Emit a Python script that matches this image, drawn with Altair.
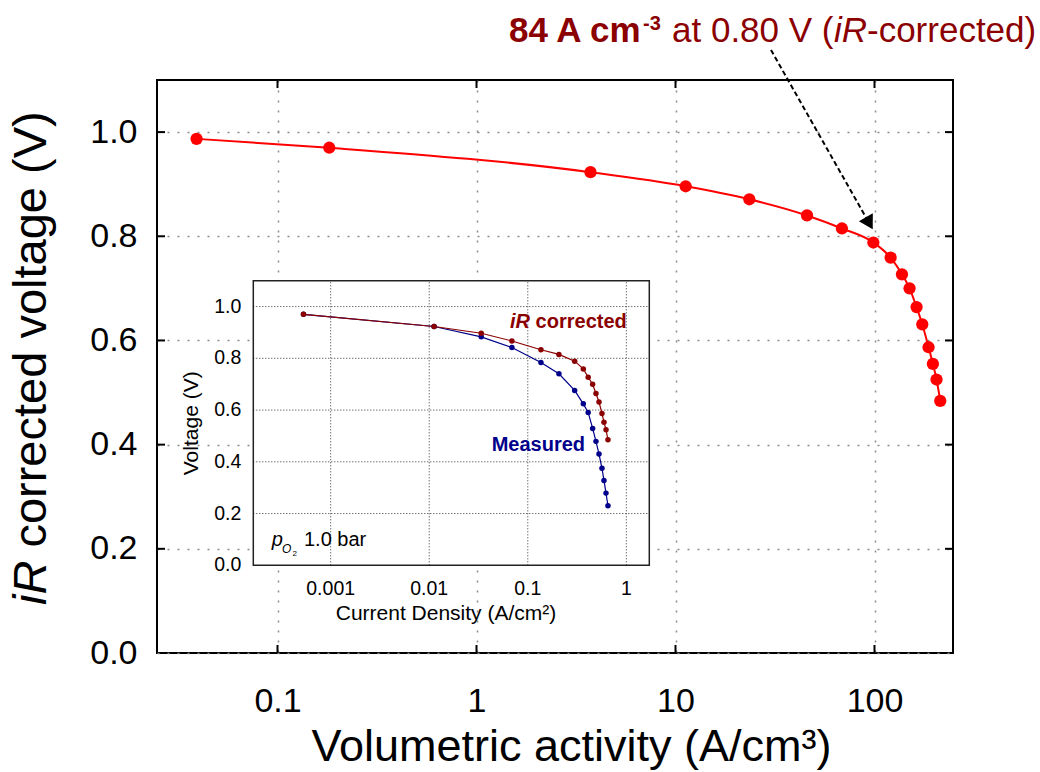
import altair as alt
import pandas as pd

# ---------------- data ----------------
main_x = [0.0392, 0.182, 3.74, 11.25, 23.5, 45.8, 68.6, 98.7, 120.5, 137.4,
          150.0, 162.7, 173.8, 186.9, 196.5, 205.0, 214.0]
main_y = [0.987, 0.970, 0.923, 0.896, 0.871, 0.840, 0.815, 0.788, 0.759, 0.727,
          0.700, 0.664, 0.631, 0.587, 0.555, 0.525, 0.484]

inset_x = [0.00053, 0.0112, 0.0337, 0.069, 0.136, 0.207, 0.299, 0.366, 0.41,
           0.455, 0.492, 0.528, 0.566, 0.593, 0.622, 0.651]
corrected_y = [0.970, 0.923, 0.897, 0.867, 0.833, 0.815, 0.789, 0.759, 0.727,
               0.700, 0.664, 0.631, 0.587, 0.553, 0.524, 0.485]
measured_y = [0.970, 0.923, 0.883, 0.842, 0.784, 0.740, 0.676, 0.624, 0.591,
              0.529, 0.479, 0.430, 0.375, 0.328, 0.279, 0.230]

main_xticks = [0.1, 1, 10, 100]
main_yticks = [0.0, 0.2, 0.4, 0.6, 0.8, 1.0]
inset_xticks = [0.001, 0.01, 0.1, 1]
inset_xlabels = ["0.001", "0.01", "0.1", "1"]
inset_yticks = [0.0, 0.2, 0.4, 0.6, 0.8, 1.0]
inset_ylabels = ["0.0", "0.2", "0.4", "0.6", "0.8", "1.0"]

main_xdomain = [0.0248, 248]
main_ydomain = [0.0, 1.1]
inset_xdomain = [1.64e-4, 1.71]
inset_ydomain = [0.0, 1.1]

# ---------------- layout / style ----------------
W, H = 796, 573
PAD = {"left": 157, "top": 80, "right": 1040 - 157 - W, "bottom": 772 - 80 - H}
FONT = "Liberation Sans, Arial, sans-serif"
RED = "#ff0000"
DARKRED = "#8b0000"
NAVY = "#00008b"
TICK = 8

ONE = pd.DataFrame({"a": [0]})


def label(text, x, y, size, weight="normal", style="normal", color="black",
          align="left", baseline="alphabetic", angle=0):
    return alt.Chart(ONE).mark_text(
        text=text, font=FONT, fontSize=size, fontWeight=weight, fontStyle=style,
        color=color, align=align, baseline=baseline, angle=angle
    ).encode(x=alt.value(x), y=alt.value(y))


# ---------------- main chart ----------------
grid_kw = dict(grid=True, gridColor="#8c8c8c", gridDash=[2, 8], gridWidth=1.5,
               ticks=False, domain=False, labelFont=FONT, labelColor="black",
               labelFontSize=34, labelOverlap=False, labelFlush=False)

xaxis = alt.Axis(values=main_xticks, format="~g", labelPadding=31,
                 title="Volumetric activity (A/cm³)", titleFont=FONT,
                 titleFontSize=45, titleFontWeight="normal", titleColor="black",
                 titleX=414, titleY=107, titleBaseline="alphabetic",
                 titleAlign="center", **grid_kw)
yaxis = alt.Axis(values=main_yticks, format=".1f", labelPadding=20, title=None,
                 **grid_kw)

X = alt.X("x:Q", scale=alt.Scale(type="log", domain=main_xdomain, nice=False), axis=xaxis)
Y = alt.Y("y:Q", scale=alt.Scale(domain=main_ydomain, nice=False, zero=False), axis=yaxis)

main_df = pd.DataFrame({"x": main_x, "y": main_y})

main_line = alt.Chart(main_df).mark_line(color=RED, strokeWidth=2,
                                         interpolate="monotone").encode(x=X, y=Y)
main_pts = alt.Chart(main_df).mark_circle(color=RED, size=150, opacity=1).encode(x=X, y=Y)

xt_df = pd.DataFrame({"x": main_xticks})
yt_df = pd.DataFrame({"y": main_yticks[1:]})
tick_kw = dict(color="black", strokeWidth=2)
ticks_bottom = alt.Chart(xt_df).mark_rule(**tick_kw).encode(
    x=X, y=alt.value(H), y2=alt.value(H - TICK))
ticks_top = alt.Chart(xt_df).mark_rule(**tick_kw).encode(
    x=X, y=alt.value(0), y2=alt.value(TICK))
ticks_left = alt.Chart(yt_df).mark_rule(**tick_kw).encode(
    y=Y, x=alt.value(0), x2=alt.value(TICK))
ticks_right = alt.Chart(yt_df).mark_rule(**tick_kw).encode(
    y=Y, x=alt.value(W), x2=alt.value(W - TICK))

# y-axis title (iR in italics)
ytitle1 = label("iR", -111, 525, 47, style="italic", angle=270)
ytitle2 = label("corrected voltage (V)", -111, 467.6, 47, angle=270)

# top annotation
ann1 = label("84 A cm", 352, -38.3, 35, weight="bold", color=DARKRED)
ann2 = label("-3", 486, -50, 20, weight="bold", color=DARKRED)
ann3 = label("at 0.80 V (", 515, -38.3, 35, color=DARKRED)
ann4 = label("iR", 677, -38.3, 35, style="italic", color=DARKRED)
ann5 = label("-corrected)", 710, -38.3, 35, color=DARKRED)

arrow_line = alt.Chart(ONE).mark_rule(color="black", strokeWidth=2,
                                      strokeDash=[5, 3]).encode(
    x=alt.value(614), y=alt.value(-30), x2=alt.value(712.3), y2=alt.value(143.3))
arrow_head = alt.Chart(ONE).mark_point(shape="triangle-down", filled=True,
                                       size=256, color="black", opacity=1,
                                       angle=330.3).encode(
    x=alt.value(712.3), y=alt.value(143.3))

main_layer = alt.layer(
    main_line, main_pts, ticks_bottom, ticks_top, ticks_left, ticks_right,
    ytitle1, ytitle2, ann1, ann2, ann3, ann4, ann5, arrow_line, arrow_head
)

# ---------------- inset ----------------
Xi = alt.X("x:Q", scale=alt.Scale(type="log", domain=inset_xdomain,
                                  range=[96.3, 492.3], nice=False), axis=None)
Yi = alt.Y("y:Q", scale=alt.Scale(domain=inset_ydomain, range=[485.3, 200.7],
                                  nice=False, zero=False), axis=None)

box_df = pd.DataFrame({"x": [inset_xdomain[0]], "x2": [inset_xdomain[1]],
                       "y": [inset_ydomain[0]], "y2": [inset_ydomain[1]]})
inset_bg = alt.Chart(box_df).mark_rect(color="white", opacity=1).encode(
    x=Xi, x2="x2:Q", y=Yi, y2="y2:Q")
inset_frame = alt.Chart(box_df).mark_rect(fillOpacity=0, stroke="#222222",
                                          strokeWidth=1.5).encode(
    x=Xi, x2="x2:Q", y=Yi, y2="y2:Q")

vg_df = pd.DataFrame({"x": inset_xticks, "y": [inset_ydomain[0]] * 4,
                      "y2": [inset_ydomain[1]] * 4})
hg_df = pd.DataFrame({"y": inset_yticks[1:], "x": [inset_xdomain[0]] * 5,
                      "x2": [inset_xdomain[1]] * 5})
igrid_kw = dict(color="#333333", strokeWidth=1, strokeDash=[1, 2])
inset_vgrid = alt.Chart(vg_df).mark_rule(**igrid_kw).encode(x=Xi, y=Yi, y2="y2:Q")
inset_hgrid = alt.Chart(hg_df).mark_rule(**igrid_kw).encode(y=Yi, x=Xi, x2="x2:Q")

meas_df = pd.DataFrame({"x": inset_x, "y": measured_y})
corr_df = pd.DataFrame({"x": inset_x, "y": corrected_y})
meas_line = alt.Chart(meas_df).mark_line(color=NAVY, strokeWidth=1.2).encode(x=Xi, y=Yi)
meas_pts = alt.Chart(meas_df).mark_circle(color=NAVY, size=30, opacity=1).encode(x=Xi, y=Yi)
corr_line = alt.Chart(corr_df).mark_line(color=DARKRED, strokeWidth=1.2).encode(x=Xi, y=Yi)
corr_pts = alt.Chart(corr_df).mark_circle(color=DARKRED, size=30, opacity=1).encode(x=Xi, y=Yi)

ixl_df = pd.DataFrame({"x": inset_xticks, "y": [inset_ydomain[0]] * 4,
                       "lab": inset_xlabels})
iyl_df = pd.DataFrame({"y": inset_yticks, "x": [inset_xdomain[0]] * 6,
                       "lab": inset_ylabels})
inset_xlab = alt.Chart(ixl_df).mark_text(font=FONT, fontSize=19.5, color="black",
                                         align="center", baseline="top",
                                         dy=15).encode(x=Xi, y=Yi, text="lab:N")
inset_ylab = alt.Chart(iyl_df).mark_text(font=FONT, fontSize=19.5, color="black",
                                         align="right", baseline="middle",
                                         dx=-12).encode(x=Xi, y=Yi, text="lab:N")

ix_title = label("Current Density (A/cm²)", 289, 540, 21, align="center")
iy_title = label("Voltage (V)", 40.5, 343.3, 21, align="center", angle=270)

lab_ir1 = label("iR", 353, 248.3, 20, weight="bold", style="italic", color=DARKRED)
lab_ir2 = label("corrected", 378.6, 248.3, 20, weight="bold", color=DARKRED)
lab_meas = label("Measured", 334.7, 371, 20, weight="bold", color=NAVY)
lab_p = label("p", 114.7, 466, 20, style="italic")
lab_o = label("O", 125, 473, 12, style="italic")
lab_2 = label("2", 135.5, 476, 8)
lab_bar = label("1.0 bar", 147, 466, 20)

inset_layer = alt.layer(
    inset_bg, inset_vgrid, inset_hgrid, meas_line, corr_line, meas_pts, corr_pts,
    inset_frame, inset_xlab, inset_ylab, ix_title, iy_title,
    lab_ir1, lab_ir2, lab_meas, lab_p, lab_o, lab_2, lab_bar
)

chart = alt.layer(main_layer, inset_layer).resolve_scale(
    x="independent", y="independent"
).properties(
    width=W, height=H, padding=PAD,
    autosize=alt.AutoSizeParams(type="none"),
    background="white"
).configure_view(stroke="black", strokeWidth=2)

chart.save("out.html", embed_options={"renderer": "svg", "actions": False})
